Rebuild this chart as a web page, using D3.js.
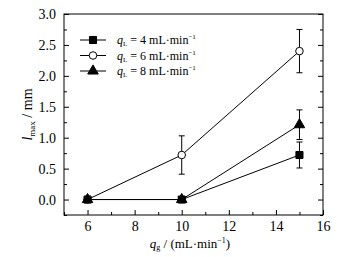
<!DOCTYPE html>
<html lang="en">
<head>
<meta charset="UTF-8" />
<title>lmax vs qg</title>
<script src="https://d3js.org/d3.v7.min.js"></script>
<style>
  * { margin: 0; padding: 0; }
  body { background: #fff; }
  svg text { font-family: "Liberation Serif", "Times New Roman", serif; fill: #000; }
</style>
</head>
<body>
<svg width="358" height="257"></svg>
<script>
// Data
var qg = [6, 10, 15];
var seriesNames = ["4", "6", "8"];
var symbols = ["square", "circle", "triangle"];
var l4 = [0, 0, 0.72];
var l6 = [0, 0.72, 2.40];
var l8 = [0, 0, 1.21];
var e4 = [0, 0, 0.21];
var e6 = [0, 0.31, 0.35];
var e8 = [0, 0, 0.24];
var xTicks = [6, 8, 10, 12, 14, 16];
var yTicks = [0, 0.5, 1.0, 1.5, 2.0, 2.5, 3.0];

var series = [
  { q: seriesNames[0], sym: symbols[0], y: l4, err: e4 },
  { q: seriesNames[1], sym: symbols[1], y: l6, err: e6 },
  { q: seriesNames[2], sym: symbols[2], y: l8, err: e8 }
];

var serif = "'Liberation Serif', 'Times New Roman', serif";

// plot box (window.top is reserved, so use own names)
var pLeft = 64, pRight = 323, pTop = 14, pBottom = 215;

var x = d3.scaleLinear().domain([5, 16]).range([pLeft, pRight]);
var y = d3.scaleLinear().domain([-0.25, 3.0]).range([pBottom, pTop]);

var svg = d3.select("svg").attr("font-family", serif);

// frame
svg.append("rect")
  .attr("x", pLeft).attr("y", pTop)
  .attr("width", pRight - pLeft).attr("height", pBottom - pTop)
  .attr("fill", "none").attr("stroke", "#000").attr("stroke-width", 1);

var xMinor = [5, 7, 9, 11, 13, 15];
var yMinor = [-0.25, 0.25, 0.75, 1.25, 1.75, 2.25, 2.75];

// bottom axis: major ticks inward, minor ticks between
var gx = svg.append("g").attr("transform", "translate(0," + pBottom + ")")
  .call(d3.axisBottom(x).tickValues(xTicks).tickSize(-5).tickPadding(6).tickFormat(d3.format("d")));
gx.select(".domain").remove();
gx.attr("font-family", serif).attr("font-size", 14);
svg.append("g").attr("transform", "translate(0," + pBottom + ")")
  .call(d3.axisBottom(x).tickValues(xMinor).tickSize(-3).tickFormat(""))
  .select(".domain").remove();

// left axis
var gy = svg.append("g").attr("transform", "translate(" + pLeft + ",0)")
  .call(d3.axisLeft(y).tickValues(yTicks).tickSize(-5).tickPadding(8).tickFormat(d3.format(".1f")));
gy.select(".domain").remove();
gy.attr("font-family", serif).attr("font-size", 14);
svg.append("g").attr("transform", "translate(" + pLeft + ",0)")
  .call(d3.axisLeft(y).tickValues(yMinor).tickSize(-3).tickFormat(""))
  .select(".domain").remove();

// right axis ticks (inward, no labels)
svg.append("g").attr("transform", "translate(" + pRight + ",0)")
  .call(d3.axisRight(y).tickValues(yTicks).tickSize(-5).tickFormat(""))
  .select(".domain").remove();
svg.append("g").attr("transform", "translate(" + pRight + ",0)")
  .call(d3.axisRight(y).tickValues(yMinor).tickSize(-3).tickFormat(""))
  .select(".domain").remove();

svg.selectAll(".tick line").attr("stroke", "#000");

var line = d3.line()
  .x(function(d, i) { return x(qg[i]); })
  .y(function(d) { return y(d); });

function symbolPath(name) {
  if (name === "square") return d3.symbol().type(d3.symbolSquare).size(50)();
  if (name === "circle") return d3.symbol().type(d3.symbolCircle).size(45)();
  return d3.symbol().type(d3.symbolTriangle).size(48)();
}

series.forEach(function(s) {
  svg.append("path")
    .datum(s.y)
    .attr("d", line)
    .attr("fill", "none")
    .attr("stroke", "#000")
    .attr("stroke-width", 1);

  // error bars
  s.y.forEach(function(v, i) {
    if (s.err[i] > 0) {
      var xc = x(qg[i]);
      var g = svg.append("g").attr("stroke", "#000").attr("stroke-width", 1);
      g.append("line").attr("x1", xc).attr("x2", xc)
        .attr("y1", y(v - s.err[i])).attr("y2", y(v + s.err[i]));
      g.append("line").attr("x1", xc - 3).attr("x2", xc + 3)
        .attr("y1", y(v - s.err[i])).attr("y2", y(v - s.err[i]));
      g.append("line").attr("x1", xc - 3).attr("x2", xc + 3)
        .attr("y1", y(v + s.err[i])).attr("y2", y(v + s.err[i]));
    }
  });
});

// markers drawn on top
series.forEach(function(s) {
  svg.selectAll(null)
    .data(s.y)
    .enter()
    .append("path")
    .attr("transform", function(d, i) { return "translate(" + x(qg[i]) + "," + y(d) + ")"; })
    .attr("d", symbolPath(s.sym))
    .attr("fill", s.sym === "circle" ? "#fff" : "#000")
    .attr("stroke", "#000")
    .attr("stroke-width", 1);
});

// legend
var legend = svg.append("g");
series.forEach(function(s, i) {
  var ly = 40 + i * 15.5;
  legend.append("line").attr("x1", 80).attr("x2", 106).attr("y1", ly).attr("y2", ly)
    .attr("stroke", "#000").attr("stroke-width", 1);
  legend.append("path")
    .attr("transform", "translate(93," + ly + ")")
    .attr("d", symbolPath(s.sym))
    .attr("fill", s.sym === "circle" ? "#fff" : "#000")
    .attr("stroke", "#000");
  var t = legend.append("text").attr("x", 117).attr("y", ly + 4).attr("font-size", 12);
  t.append("tspan").attr("font-style", "italic").text("q");
  t.append("tspan").attr("font-size", 7).attr("dy", 2).text("L");
  t.append("tspan").attr("dy", -2).text(" = " + s.q + " mL\u00b7min");
  t.append("tspan").attr("font-size", 7).attr("dy", -5).text("\u22121");
});

// x label
var xl = svg.append("text").attr("x", 190).attr("y", 248).attr("text-anchor", "middle").attr("font-size", 13);
xl.append("tspan").attr("font-style", "italic").text("q");
xl.append("tspan").attr("font-size", 8).attr("dy", 2).text("g");
xl.append("tspan").attr("dy", -2).text(" / (mL\u00b7min");
xl.append("tspan").attr("font-size", 8).attr("dy", -5).text("\u22121");
xl.append("tspan").attr("dy", 5).text(")");

// y label
var yl = svg.append("text")
  .attr("transform", "translate(32," + ((pTop + pBottom) / 2) + ") rotate(-90)")
  .attr("text-anchor", "middle").attr("font-size", 14);
yl.append("tspan").attr("font-style", "italic").text("l");
yl.append("tspan").attr("font-size", 9).attr("dy", 3).text("max");
yl.append("tspan").attr("dy", -3).text(" / mm");
</script>
</body>
</html>
